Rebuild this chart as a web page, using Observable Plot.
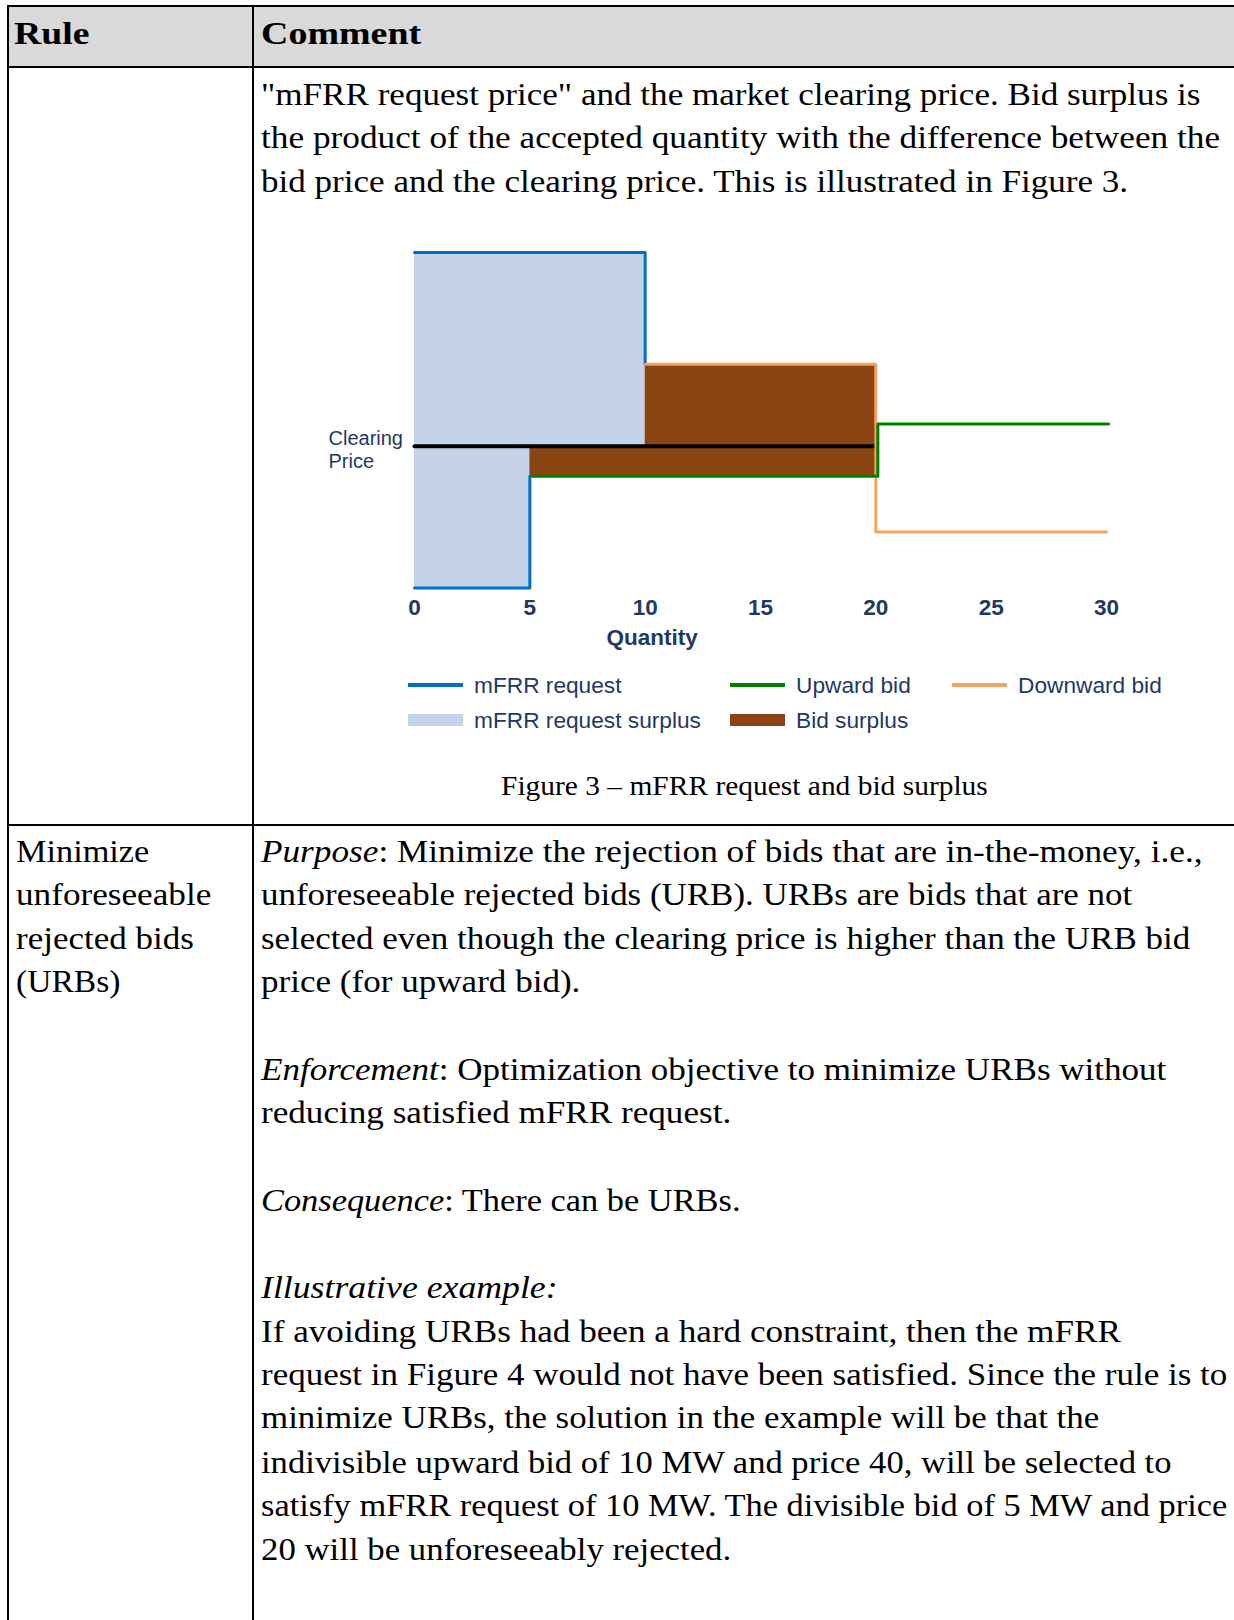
<!DOCTYPE html>
<html>
<head>
<meta charset="utf-8">
<script src="https://cdn.jsdelivr.net/npm/d3@7"></script>
<script src="https://cdn.jsdelivr.net/npm/@observablehq/plot@0.6"></script>
<style>
  html, body { margin: 0; padding: 0; background: #fff; }
  #page { position: relative; width: 1234px; height: 1620px; overflow: hidden; background: #fff; }
  .bar { position: absolute; background: #000; }
  .t { position: absolute; white-space: nowrap; font-family: "Liberation Serif", "Times New Roman", serif; font-size: 30.5px; line-height: 1; color: #000; transform-origin: 0 0; }
  .t.b { font-weight: bold; }
  .t.cap { font-size: 26.5px; }
  #chart { position: absolute; left: 300px; top: 220px; }
  #chart svg { display: block; overflow: visible; }
  #legend { position: absolute; left: 408px; top: 667.5px; display: grid; grid-template-columns: 322px 222px auto; grid-auto-rows: 35px; font-family: "Liberation Sans", Arial, sans-serif; font-size: 22.7px; color: #1f3864; }
  .li { display: flex; align-items: center; white-space: nowrap; }
  .sw { width: 55px; margin-right: 11px; flex: none; }
</style>
</head>
<body>
<div id="page">
  <!-- header background -->
  <div style="position:absolute;left:8px;top:6px;width:1226px;height:61px;background:#d9d9d9"></div>
  <!-- borders -->
  <div class="bar" style="left:7px;top:5px;width:1227px;height:2px"></div>
  <div class="bar" style="left:7px;top:65.5px;width:1227px;height:2px"></div>
  <div class="bar" style="left:7px;top:824px;width:1227px;height:2px"></div>
  <div class="bar" style="left:6.5px;top:5px;width:2px;height:1615px"></div>
  <div class="bar" style="left:251.5px;top:5px;width:2px;height:1615px"></div>

  <!-- header -->
  <div class="t b" data-x="14" data-base="44.3" data-w="75.4">Rule</div>
  <div class="t b" data-x="261" data-base="44.3" data-w="160.2">Comment</div>

  <!-- row 1 text -->
  <div class="t" data-x="261" data-base="105" data-w="939.5">"mFRR request price" and the market clearing price. Bid surplus is</div>
  <div class="t" data-x="261" data-base="148.4" data-w="959.1">the product of the accepted quantity with the difference between the</div>
  <div class="t" data-x="261" data-base="191.8" data-w="867.1">bid price and the clearing price. This is illustrated in Figure 3.</div>

  <div id="chart"></div>
  <div id="legend"></div>

  <div class="t cap" data-x="501" data-base="794.5" data-w="486.8">Figure 3 – mFRR request and bid surplus</div>

  <!-- row 2 left -->
  <div class="t" data-x="16" data-base="861.5" data-w="133.3">Minimize</div>
  <div class="t" data-x="16" data-base="904.9" data-w="195.3">unforeseeable</div>
  <div class="t" data-x="16" data-base="948.7" data-w="177.8">rejected bids</div>
  <div class="t" data-x="16" data-base="992.2" data-w="104.4">(URBs)</div>

  <!-- row 2 right -->
  <div class="t" data-x="261" data-base="861.5" data-w="941.5"><i>Purpose</i>: Minimize the rejection of bids that are in-the-money, i.e.,</div>
  <div class="t" data-x="261" data-base="904.9" data-w="871.2">unforeseeable rejected bids (URB). URBs are bids that are not</div>
  <div class="t" data-x="261" data-base="948.7" data-w="929.1">selected even though the clearing price is higher than the URB bid</div>
  <div class="t" data-x="261" data-base="992.2" data-w="319.4">price (for upward bid).</div>
  <div class="t" data-x="261" data-base="1080.0" data-w="905.3"><i>Enforcement</i>: Optimization objective to minimize URBs without</div>
  <div class="t" data-x="261" data-base="1123.4" data-w="470.2">reducing satisfied mFRR request.</div>
  <div class="t" data-x="261" data-base="1211.3" data-w="479.5"><i>Consequence</i>: There can be URBs.</div>
  <div class="t" data-x="261" data-base="1298.1" data-w="296.6"><i>Illustrative example:</i></div>
  <div class="t" data-x="261" data-base="1341.5" data-w="859.9">If avoiding URBs had been a hard constraint, then the mFRR</div>
  <div class="t" data-x="261" data-base="1384.9" data-w="966.3">request in Figure 4 would not have been satisfied. Since the rule is to</div>
  <div class="t" data-x="261" data-base="1428.3" data-w="838.2">minimize URBs, the solution in the example will be that the</div>
  <div class="t" data-x="261" data-base="1472.7" data-w="910.5">indivisible upward bid of 10 MW and price 40, will be selected to</div>
  <div class="t" data-x="261" data-base="1516.1" data-w="966.3">satisfy mFRR request of 10 MW. The divisible bid of 5 MW and price</div>
  <div class="t" data-x="261" data-base="1559.6" data-w="470.2">20 will be unforeseeably rejected.</div>
</div>

<script>
// ---------- chart data ----------
const qtyTicks = [0, 5, 10, 15, 20, 25, 30];
const clearingPrice = 48;
const clearingQty = [0, 20];

// mFRR request: two step pieces (quantity, price)
const requestUpQty = [0, 10, 10];
const requestUpPrice = [100, 100, 70];
const requestDownQty = [0, 5, 5];
const requestDownPrice = [10, 10, 40];

// Upward bid curve
const upwardBidQty = [5, 20, 20, 30];
const upwardBidPrice = [40, 40, 54, 54];

// Downward bid curve
const downwardBidQty = [10, 20, 20, 30];
const downwardBidPrice = [70, 70, 25, 25];

// Surplus blocks
const requestSurplusQ1 = [0, 0];
const requestSurplusQ2 = [10, 5];
const requestSurplusP1 = [clearingPrice, 10];
const requestSurplusP2 = [100, clearingPrice];
const bidSurplusQ1 = [10, 5];
const bidSurplusQ2 = [20, 20];
const bidSurplusP1 = [clearingPrice, 40];
const bidSurplusP2 = [70, clearingPrice];

const legendLabels = ["mFRR request", "Upward bid", "Downward bid", "mFRR request surplus", "Bid surplus"];
const legendKinds = ["line", "line", "line", "block", "block"];
const colors = {
  request: "#0070c0",
  upward: "#008000",
  downward: "#f4a460",
  requestSurplus: "#c5d3ea",
  bidSurplus: "#8b4513",
  clearing: "#000000"
};
const legendColors = [colors.request, colors.upward, colors.downward, colors.requestSurplus, colors.bidSurplus];
const axisLabel = {text: "Quantity", at: 10.3};
const clearingLabel = "Clearing\nPrice";

// ---------- build tables ----------
const pts = (qs, ps, part) => qs.map((q, i) => ({q, p: ps[i], part}));
const requestLines = [...pts(requestUpQty, requestUpPrice, "up"), ...pts(requestDownQty, requestDownPrice, "down")];
const upwardLine = pts(upwardBidQty, upwardBidPrice, "u");
const downwardLine = pts(downwardBidQty, downwardBidPrice, "d");
const clearingLine = clearingQty.map(q => ({q, p: clearingPrice}));
const blocks = (a, b, c, d) => a.map((_, i) => ({q1: a[i], q2: b[i], p1: c[i], p2: d[i]}));
const requestSurplus = blocks(requestSurplusQ1, requestSurplusQ2, requestSurplusP1, requestSurplusP2);
const bidSurplus = blocks(bidSurplusQ1, bidSurplusQ2, bidSurplusP1, bidSurplusP2);

const chart = Plot.plot({
  width: 830,
  height: 440,
  marginLeft: 114,
  marginRight: 24,
  marginTop: 32,
  marginBottom: 72.5,
  style: {fontFamily: "'Liberation Sans', Arial, sans-serif", color: "#1f3864", background: "transparent", overflow: "visible"},
  x: {domain: [0, 30]},
  y: {domain: [10, 100], axis: null},
  marks: [
    Plot.rect(requestSurplus, {x1: "q1", x2: "q2", y1: "p1", y2: "p2", fill: colors.requestSurplus}),
    Plot.rect(bidSurplus, {x1: "q1", x2: "q2", y1: "p1", y2: "p2", fill: colors.bidSurplus}),
    Plot.line(clearingLine, {x: "q", y: "p", stroke: colors.clearing, strokeWidth: 4}),
    Plot.line(requestLines, {x: "q", y: "p", z: "part", stroke: colors.request, strokeWidth: 3}),
    Plot.line(downwardLine, {x: "q", y: "p", stroke: colors.downward, strokeWidth: 3}),
    Plot.line(upwardLine, {x: "q", y: "p", stroke: colors.upward, strokeWidth: 3, dx: 2}),
    Plot.axisX({ticks: qtyTicks, tickSize: 0, tickPadding: 11, fontSize: 22.5, fontWeight: "bold", label: null, tickFormat: d => String(d)}),
    Plot.text([axisLabel], {x: "at", text: "text", frameAnchor: "bottom", lineAnchor: "middle", dy: 50, fontSize: 22.5, fontWeight: "bold", fill: "#1f3864"}),
    Plot.text([{q: 0, p: clearingPrice, t: clearingLabel}], {x: "q", y: "p", text: "t", textAnchor: "start", lineAnchor: "middle", dx: -86, dy: 3, fontSize: 20, lineHeight: 1.115, fill: "#1f3864"})
  ]
});
document.getElementById("chart").appendChild(chart);

// legend
const legend = document.getElementById("legend");
legendLabels.forEach((label, i) => {
  const item = document.createElement("div");
  item.className = "li";
  const sw = document.createElement("div");
  sw.className = "sw";
  sw.style.background = legendColors[i];
  sw.style.height = legendKinds[i] === "line" ? "4px" : "12px";
  const lab = document.createElement("span");
  lab.textContent = label;
  item.appendChild(sw);
  item.appendChild(lab);
  legend.appendChild(item);
});

// text layout: baseline placement and width fitting
document.querySelectorAll(".t").forEach(el => {
  el.style.left = el.dataset.x + "px";
  el.style.top = "0px";
  const probe = document.createElement("span");
  probe.style.cssText = "display:inline-block;width:0;height:0;";
  el.appendChild(probe);
  const base = probe.getBoundingClientRect().top - el.getBoundingClientRect().top;
  el.style.top = (+el.dataset.base - base) + "px";
  const w = el.getBoundingClientRect().width;
  if (el.dataset.w && w > 0) el.style.transform = `scaleX(${(+el.dataset.w / w).toFixed(4)})`;
});
</script>
</body>
</html>
